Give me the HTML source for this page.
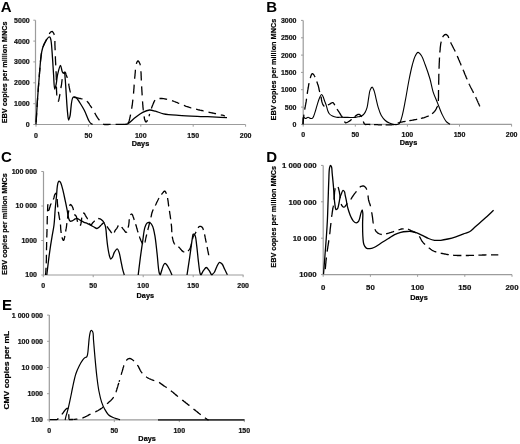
<!DOCTYPE html>
<html><head><meta charset="utf-8"><style>
html,body{margin:0;padding:0;background:#fff;width:520px;height:444px;overflow:hidden}
svg{display:block;will-change:transform;filter:blur(0.3px)}
.t{font-family:"Liberation Sans",sans-serif;font-weight:bold;font-size:7px;fill:#111;stroke:#111;stroke-width:0.22px}
.at{font-family:"Liberation Sans",sans-serif;font-weight:bold;font-size:7.3px;fill:#000;stroke:#000;stroke-width:0.2px}
.L{font-family:"Liberation Sans",sans-serif;font-weight:bold;font-size:15px;fill:#000}
</style></head><body>
<svg width="520" height="444" viewBox="0 0 520 444">
<rect width="520" height="444" fill="#fff"/>
<path d="M35.5 20.2 V124.5 H245.5" fill="none" stroke="#9c9c9c" stroke-width="1.2"/>
<path d="M33.3 124.5 H35.5" stroke="#9c9c9c" stroke-width="1"/>
<path d="M33.3 103.7 H35.5" stroke="#9c9c9c" stroke-width="1"/>
<path d="M33.3 82.8 H35.5" stroke="#9c9c9c" stroke-width="1"/>
<path d="M33.3 61.9 H35.5" stroke="#9c9c9c" stroke-width="1"/>
<path d="M33.3 41.1 H35.5" stroke="#9c9c9c" stroke-width="1"/>
<path d="M33.3 20.2 H35.5" stroke="#9c9c9c" stroke-width="1"/>
<path d="M36.0 124.5 V126.7" stroke="#9c9c9c" stroke-width="1"/>
<path d="M88.4 124.5 V126.7" stroke="#9c9c9c" stroke-width="1"/>
<path d="M140.8 124.5 V126.7" stroke="#9c9c9c" stroke-width="1"/>
<path d="M193.2 124.5 V126.7" stroke="#9c9c9c" stroke-width="1"/>
<path d="M245.6 124.5 V126.7" stroke="#9c9c9c" stroke-width="1"/>
<text x="29.7" y="126.95" text-anchor="end" class="t">0</text>
<text x="29.7" y="106.10" text-anchor="end" class="t">1000</text>
<text x="29.7" y="85.25" text-anchor="end" class="t">2000</text>
<text x="29.7" y="64.40" text-anchor="end" class="t">3000</text>
<text x="29.7" y="43.55" text-anchor="end" class="t">4000</text>
<text x="29.7" y="22.70" text-anchor="end" class="t">5000</text>
<text x="36.0" y="137.8" text-anchor="middle" class="t">0</text>
<text x="88.4" y="137.8" text-anchor="middle" class="t">50</text>
<text x="140.8" y="137.8" text-anchor="middle" class="t">100</text>
<text x="193.2" y="137.8" text-anchor="middle" class="t">150</text>
<text x="245.6" y="137.8" text-anchor="middle" class="t">200</text>
<text x="140.5" y="146.2" text-anchor="middle" class="at">Days</text>
<text transform="translate(7.1 72.4) rotate(-90)" text-anchor="middle" class="at">EBV copies per million MNCs</text>
<text x="0.8" y="11.6" class="L">A</text>
<path d="M36.00 124.40 C36.47 116.60 36.84 109.22 37.40 101.00 C38.02 91.85 38.89 80.38 39.60 72.00 C40.15 65.58 40.57 59.32 41.20 55.00 C41.59 52.31 41.96 50.39 42.50 48.50 C42.93 46.99 43.40 45.83 44.00 44.50 C44.63 43.10 45.36 41.58 46.20 40.30 C47.00 39.09 48.12 37.29 48.90 37.00 C49.30 36.85 49.70 36.93 50.00 37.20 C50.53 37.67 50.70 38.94 51.00 40.50 C51.67 44.01 52.06 52.21 52.50 58.00 C52.93 63.71 53.21 69.61 53.60 75.00 C53.95 79.89 54.05 88.93 54.70 89.00 C55.10 89.04 55.77 85.93 56.20 84.00 C56.76 81.46 56.81 78.01 57.50 75.00 C58.22 71.85 59.66 65.49 60.50 65.50 C61.17 65.51 61.58 70.14 62.20 71.50 C62.55 72.27 62.86 73.01 63.30 73.20 C63.63 73.34 64.11 72.79 64.40 73.00 C65.08 73.49 64.95 76.50 65.20 79.00 C65.61 83.13 65.92 90.00 66.30 95.50 C66.68 101.00 67.03 107.49 67.50 112.00 C67.83 115.15 68.07 119.95 68.60 120.00 C68.98 120.04 69.53 117.85 70.00 116.00 C71.00 112.07 70.99 98.72 73.10 97.20 C73.96 96.58 75.23 97.10 76.20 97.70 C77.60 98.57 78.74 101.06 80.00 103.00 C81.44 105.21 82.89 107.56 84.30 110.30 C86.00 113.59 87.95 119.29 89.30 121.50 C89.94 122.54 90.38 123.11 91.00 123.60 C91.50 124.00 92.07 124.13 92.60 124.40 M123.00 124.40 C124.57 124.20 126.09 124.50 127.70 123.80 C129.92 122.84 132.17 119.97 134.60 118.10 C137.16 116.13 140.00 113.67 142.70 112.30 C145.00 111.13 147.38 110.13 149.60 110.00 C151.60 109.88 153.32 110.65 155.40 111.20 C157.89 111.86 160.33 113.13 163.50 113.80 C167.76 114.70 172.89 114.96 178.80 115.40 C186.91 116.01 199.04 116.28 207.70 116.70 C214.78 117.04 220.57 117.37 227.00 117.70" fill="none" stroke="#000" stroke-width="1.30" stroke-linejoin="round"/>
<path d="M36.1 122.1 36.2 121.2 36.2 120.3 36.3 119.5 36.3 118.6 36.4 117.7 36.4 116.8 36.5 116.0 36.5 115.1 36.6 114.2 36.6 113.3 36.7 113.0M37.0 107.0 37.1 106.2 37.1 105.4 37.2 104.6 37.2 103.8 37.3 103.0 37.3 102.1 37.4 101.3 37.4 100.5 37.5 99.7 37.5 98.8 37.6 98.0 37.6 97.9M38.0 91.9 38.1 91.0 38.2 90.2 38.2 89.3 38.3 88.4 38.4 87.5 38.4 86.7 38.5 85.8 38.6 84.9 38.6 84.0 38.7 83.2 38.7 82.9M39.2 76.9 39.3 76.1 39.3 75.2 39.4 74.3 39.5 73.5 39.5 72.7 39.6 71.8 39.7 71.0 39.8 70.1 39.8 69.3 39.9 68.5 39.9 67.8M40.4 61.8 40.5 61.0 40.6 60.2 40.7 59.3 40.8 58.5 40.9 57.6 41.0 56.9 41.1 56.0 41.2 55.2 41.3 54.4 41.4 53.6 41.5 52.8M43.0 47.1 43.3 46.3 43.6 45.5 43.9 44.7 44.3 43.9 44.6 43.2 45.0 42.5 45.4 41.7 45.7 41.0 46.1 40.3 46.5 39.5 46.7 39.1M49.3 34.0 49.7 33.3 50.1 32.6 50.7 32.0 51.4 31.6 52.3 31.5 52.9 32.1 53.4 32.8 53.8 33.5 54.1 34.4 54.4 35.1M54.9 41.0 54.9 41.8 54.9 42.7 54.9 43.5 54.9 44.4 54.9 45.2 55.0 46.0 55.0 46.9 55.0 47.7 55.1 48.6 55.1 49.5 55.1 50.2M55.4 56.2 55.4 57.0 55.4 57.8 55.4 58.6 55.5 59.4 55.5 60.3 55.5 61.1 55.6 62.0 55.6 62.9 55.7 63.7 55.7 64.6 55.8 65.3M56.0 71.2 56.1 72.1 56.1 72.9 56.2 73.8 56.2 74.6 56.2 75.5 56.2 76.3 56.3 77.1 56.3 78.0 56.3 78.9 56.3 79.7 56.3 80.3M56.4 86.4 56.4 87.2 56.5 88.0 56.5 88.9 56.5 89.7 56.5 90.6 56.6 91.4 56.6 92.3 56.7 93.1 56.7 94.0 56.8 94.9 56.9 95.5M57.8 101.4 58.5 101.1 58.8 100.2 58.9 99.4 59.1 98.6 59.3 97.8 59.4 96.8 59.6 96.0 59.8 95.2 59.9 94.3 60.0 94.0M60.9 88.2 61.0 87.4 61.2 86.5 61.3 85.6 61.5 84.8 61.6 83.9 61.7 83.0 61.8 82.1 61.9 81.3 62.0 80.5 62.1 79.7 62.2 79.1M63.3 73.4 63.7 72.7 64.3 72.2 65.1 72.1 65.5 72.8 65.8 73.6 66.0 74.5 66.3 75.2 66.6 76.0 66.9 76.8 67.2 77.6 67.3 77.9M68.7 83.7 68.8 84.5 68.9 85.4 69.1 86.2 69.2 87.1 69.4 88.0 69.6 88.8 69.7 89.6 69.9 90.4 70.1 91.2 70.4 92.1 70.5 92.5M73.5 97.1 74.2 97.4 75.1 97.5 75.9 97.5 76.7 97.7 77.6 97.9 78.4 98.1 79.2 98.3 80.1 98.5 80.9 98.7 81.7 98.8 82.5 98.8M86.9 101.1 87.4 101.7 88.0 102.3 88.5 103.0 89.0 103.7 89.5 104.5 89.9 105.1 90.4 105.8 90.8 106.5 91.3 107.1 91.7 107.8 91.9 108.0M94.7 112.9 95.1 113.7 95.6 114.5 96.0 115.2 96.4 116.0 96.9 116.7 97.3 117.4 97.8 118.1 98.2 118.7 98.8 119.5 99.3 120.2 99.3 120.3M103.1 124.0 103.8 124.3 104.7 124.5 105.5 124.5 106.3 124.5 107.2 124.5 108.1 124.5 109.0 124.4 109.8 124.4 110.6 124.4M115.6 124.4 116.5 124.4 117.5 124.4 118.4 124.4 119.3 124.4 120.2 124.4 121.1 124.4 121.9 124.3 122.8 124.3 123.2 124.3M128.0 123.1 128.4 122.4 128.8 121.7 129.1 120.9 129.3 120.1 129.5 119.3 129.7 118.5 129.9 117.6 130.1 116.8 130.3 115.9 130.5 115.0 130.6 114.6M131.7 108.8 131.8 107.9 131.9 107.1 132.0 106.3 132.2 105.5 132.3 104.6 132.4 103.7 132.5 102.9 132.6 102.0 132.7 101.1 132.8 100.3 132.9 99.7M133.5 93.7 133.6 92.9 133.6 92.1 133.7 91.3 133.8 90.5 133.8 89.6 133.9 88.8 134.0 88.0 134.0 87.1 134.1 86.3 134.1 85.5 134.2 84.7M134.7 78.7 134.7 77.9 134.8 77.0 134.9 76.2 135.0 75.4 135.0 74.6 135.1 73.7 135.2 72.9 135.3 72.0 135.3 71.2 135.4 70.3 135.4 69.7M136.4 63.8 136.6 63.0 136.9 62.2 137.3 61.5 137.8 60.9 138.6 61.2 139.0 61.9 139.4 62.7 139.8 63.5 140.1 64.2 140.3 65.0 140.4 65.3M140.9 71.2 141.0 72.1 141.0 72.9 141.1 73.7 141.1 74.6 141.1 75.4 141.2 76.2 141.2 77.1 141.2 77.9 141.3 78.8 141.3 79.6 141.3 80.4M141.6 86.3 141.7 87.1 141.7 87.9 141.8 88.8 141.8 89.6 141.9 90.5 141.9 91.4 142.0 92.2 142.0 93.0 142.1 93.8 142.1 94.6 142.2 95.4M142.5 101.4 142.6 102.3 142.7 103.2 142.7 104.0 142.8 104.9 142.9 105.7 142.9 106.5 143.0 107.4 143.1 108.3 143.2 109.1 143.3 109.9 143.4 110.4M144.1 116.4 144.2 117.2 144.3 118.0 144.5 118.8 144.7 119.6 145.0 120.4 145.3 121.2 145.7 121.8 146.5 121.9 147.0 121.2 147.3 120.4 147.5 120.1M148.9 116.3 149.2 115.5 149.4 114.8 149.7 114.0M151.4 108.4 151.7 107.6 152.0 106.8 152.3 106.0 152.6 105.2 152.9 104.5 153.2 103.7 153.6 102.9 153.9 102.1 154.3 101.3 154.7 100.6 155.0 100.2M159.5 98.5 160.4 98.5 161.3 98.5 162.1 98.5 162.9 98.6 163.8 98.7 164.6 98.8 165.5 99.0 166.3 99.1 167.1 99.3M172.0 100.6 172.7 100.9 173.5 101.2 174.3 101.5 175.2 101.8 175.9 102.1 176.7 102.4 177.5 102.7 178.2 103.1 179.0 103.4 179.2 103.5M183.9 105.4 184.7 105.7 185.5 106.1 186.3 106.4 187.1 106.6 188.0 106.9 188.8 107.2 189.5 107.4 190.3 107.7 191.1 107.9 191.3 107.9M196.1 109.2 196.9 109.4 197.7 109.6 198.5 109.8 199.3 110.0 200.1 110.2 200.9 110.3 201.7 110.5 202.5 110.7 203.3 110.9 203.6 110.9M208.5 112.1 209.3 112.3 210.1 112.5 210.9 112.6 211.7 112.8 212.5 113.0 213.3 113.2 214.1 113.4 214.8 113.5 215.6 113.7 216.0 113.8M220.8 114.9 221.7 115.1 222.5 115.2 223.3 115.4 224.0 115.6 224.8 115.8 225.0 115.8" fill="none" stroke="#000" stroke-width="1.30" stroke-linejoin="round"/>
<path d="M303.2 20.4 V124.4 H511.8" fill="none" stroke="#9c9c9c" stroke-width="1.2"/>
<path d="M301.0 124.4 H303.2" stroke="#9c9c9c" stroke-width="1"/>
<path d="M301.0 107.1 H303.2" stroke="#9c9c9c" stroke-width="1"/>
<path d="M301.0 89.7 H303.2" stroke="#9c9c9c" stroke-width="1"/>
<path d="M301.0 72.4 H303.2" stroke="#9c9c9c" stroke-width="1"/>
<path d="M301.0 55.1 H303.2" stroke="#9c9c9c" stroke-width="1"/>
<path d="M301.0 37.8 H303.2" stroke="#9c9c9c" stroke-width="1"/>
<path d="M301.0 20.4 H303.2" stroke="#9c9c9c" stroke-width="1"/>
<path d="M303.2 124.4 V126.6" stroke="#9c9c9c" stroke-width="1"/>
<path d="M355.3 124.4 V126.6" stroke="#9c9c9c" stroke-width="1"/>
<path d="M407.4 124.4 V126.6" stroke="#9c9c9c" stroke-width="1"/>
<path d="M459.5 124.4 V126.6" stroke="#9c9c9c" stroke-width="1"/>
<path d="M511.6 124.4 V126.6" stroke="#9c9c9c" stroke-width="1"/>
<text x="296.5" y="126.85" text-anchor="end" class="t">0</text>
<text x="296.5" y="109.52" text-anchor="end" class="t">500</text>
<text x="296.5" y="92.19" text-anchor="end" class="t">1000</text>
<text x="296.5" y="74.86" text-anchor="end" class="t">1500</text>
<text x="296.5" y="57.53" text-anchor="end" class="t">2000</text>
<text x="296.5" y="40.20" text-anchor="end" class="t">2500</text>
<text x="296.5" y="22.87" text-anchor="end" class="t">3000</text>
<text x="303.2" y="136.6" text-anchor="middle" class="t">0</text>
<text x="355.3" y="136.6" text-anchor="middle" class="t">50</text>
<text x="407.4" y="136.6" text-anchor="middle" class="t">100</text>
<text x="459.5" y="136.6" text-anchor="middle" class="t">150</text>
<text x="511.6" y="136.6" text-anchor="middle" class="t">200</text>
<text x="408.5" y="145.0" text-anchor="middle" class="at">Days</text>
<text transform="translate(276.0 69.6) rotate(-90)" text-anchor="middle" class="at">EBV copies per million MNCs</text>
<text x="266.2" y="11.9" class="L">B</text>
<path d="M303.00 124.30 C303.13 121.87 302.63 117.36 303.40 117.00 C303.85 116.79 304.66 118.42 305.40 118.50 C306.21 118.59 307.20 117.30 308.10 117.30 C309.00 117.30 309.96 118.47 310.80 118.50 C311.51 118.53 312.22 118.35 312.80 117.80 C313.74 116.91 314.25 114.47 314.90 112.60 C315.63 110.50 316.17 108.14 316.90 105.80 C317.69 103.28 318.56 100.05 319.50 98.00 C320.16 96.56 320.95 94.52 321.60 94.50 C322.10 94.48 322.57 95.66 323.00 96.50 C323.60 97.67 324.04 99.48 324.60 101.00 C325.18 102.58 325.88 104.20 326.40 105.80 C326.91 107.36 327.14 109.07 327.70 110.50 C328.20 111.78 328.68 113.07 329.50 114.00 C330.27 114.88 331.30 115.46 332.40 116.00 C333.61 116.59 335.17 117.09 336.50 117.30 C337.70 117.49 338.61 117.29 340.00 117.30 C342.07 117.31 345.14 117.38 347.70 117.40 C350.24 117.42 353.42 117.61 355.30 117.40 C356.44 117.28 357.16 116.96 358.00 116.80 C358.71 116.67 359.29 116.73 360.00 116.50 C360.92 116.21 362.15 115.68 363.00 115.00 C363.85 114.32 364.48 113.46 365.10 112.40 C365.89 111.05 366.56 109.35 367.10 107.40 C367.81 104.83 368.08 101.17 368.60 98.20 C369.09 95.41 369.27 92.08 370.10 90.10 C370.65 88.78 371.55 87.05 372.20 87.10 C372.92 87.15 373.61 89.49 374.20 91.10 C375.01 93.31 375.53 96.58 376.20 99.30 C376.86 102.01 377.36 104.73 378.20 107.40 C379.05 110.13 379.99 113.21 381.30 115.50 C382.43 117.47 383.84 119.19 385.30 120.50 C386.57 121.64 388.04 122.45 389.40 123.10 C390.60 123.67 391.68 124.09 393.00 124.30 C394.51 124.55 396.78 124.74 398.00 124.30 C398.86 123.99 399.34 123.53 399.90 122.70 C400.84 121.32 401.38 118.78 402.10 116.10 C403.19 112.06 404.23 106.22 405.30 100.70 C406.53 94.32 407.74 86.33 409.00 80.00 C410.08 74.59 411.15 69.27 412.30 65.00 C413.17 61.74 413.86 58.75 415.00 56.50 C415.86 54.80 416.90 52.49 418.00 52.40 C419.07 52.31 420.45 54.26 421.50 55.80 C422.97 57.96 423.95 61.36 425.20 64.70 C426.77 68.88 428.66 74.34 430.00 79.00 C431.26 83.36 431.81 87.73 433.10 91.80 C434.33 95.68 436.03 99.21 437.50 102.90 C438.96 106.58 440.31 110.61 441.90 113.90 C443.27 116.75 444.69 119.80 446.30 121.60 C447.46 122.89 448.77 123.40 450.00 124.30" fill="none" stroke="#000" stroke-width="1.10" stroke-linejoin="round"/>
<path d="M303.0 124.3 303.1 123.5 303.1 122.7 303.2 121.9 303.3 121.0 303.4 120.1 303.4 119.2 303.5 118.4 303.6 117.6 303.7 116.8 303.8 116.0 303.8 115.2 303.9 114.6M304.7 109.6 304.8 108.8 305.0 108.0 305.1 107.2 305.3 106.4 305.4 105.6 305.6 104.7 305.7 103.9 305.9 103.1 306.0 102.3 306.2 101.4 306.3 100.6 306.4 99.8 306.5 99.0 306.6 98.8M307.2 93.8 307.4 93.0 307.5 92.2 307.6 91.3 307.7 90.5 307.9 89.7 308.0 88.9 308.2 88.0 308.3 87.1 308.5 86.3 308.6 85.4 308.8 84.5 308.9 83.7 309.1 83.1M310.3 78.2 310.5 77.4 310.7 76.6 311.0 75.8 311.3 75.0 311.6 74.2 312.2 73.6 313.0 73.9 313.6 74.6 314.1 75.2 314.5 76.0 314.9 76.7 315.1 77.1M316.8 81.6 317.1 82.4 317.4 83.2 317.6 83.9 317.9 84.7 318.2 85.5 318.4 86.3 318.6 87.1 318.8 87.9 319.0 88.8 319.1 89.6 319.3 90.4 319.5 91.2 319.7 92.0M321.0 96.7 321.1 97.5 321.3 98.4 321.4 99.1 321.5 99.9 321.7 100.8 321.9 101.7 322.1 102.4 322.4 103.3 322.7 104.1 323.1 104.9 323.6 105.7 324.2 106.2 324.4 106.3M327.9 104.9 328.7 104.7 329.4 104.3 330.1 103.9 330.8 103.4 331.5 103.0 332.3 102.6 333.1 102.7 333.7 103.4 334.2 104.1 334.6 104.9 334.7 105.2M337.0 109.1 337.5 109.8 337.9 110.4 338.4 111.1 338.9 111.8 339.3 112.5 339.7 113.2 340.2 113.9 340.6 114.6 341.0 115.3 341.5 116.0 342.0 116.7 342.4 117.4M344.5 121.5 344.9 122.2 345.5 122.8 346.4 122.7 347.1 122.4 347.9 122.0 348.7 121.5 349.4 121.1 350.1 120.6 350.8 120.1 351.4 119.6 351.6 119.4M354.7 116.7 355.3 116.2 356.0 115.6 356.7 115.1 357.4 114.7 358.2 114.4 359.0 114.3 359.8 114.7 360.4 115.3 360.9 115.9 361.4 116.6 361.6 117.0M363.3 121.5 363.6 122.2 363.9 123.1 364.3 123.8 365.0 124.3 365.8 124.5 366.6 124.4 367.4 124.4 368.2 124.4 369.1 124.4 369.9 124.5 370.3 124.5M374.0 124.6 374.9 124.6 375.8 124.7 376.7 124.7 377.5 124.7 378.3 124.8 379.1 124.8 380.0 124.8 380.8 124.8 381.7 124.8 382.0 124.8M385.6 124.9 386.4 124.9 387.3 124.9 388.2 124.9 389.1 124.9 389.9 124.8 390.8 124.8 391.6 124.8 392.4 124.7 393.3 124.7 394.1 124.6 394.3 124.6M397.8 123.3 398.5 122.8 399.4 122.5 400.2 122.3 400.9 122.1 401.8 122.0 402.7 121.8 403.5 121.7 404.3 121.6 405.1 121.4 405.6 121.3M409.3 120.7 410.1 120.6 410.9 120.4 411.7 120.3 412.5 120.2 413.3 120.0 414.1 119.9 414.9 119.7 415.7 119.6 416.5 119.4 417.2 119.2M420.9 118.4 421.8 118.2 422.6 118.0 423.4 117.8 424.2 117.6 425.0 117.3 425.8 117.0 426.6 116.7 427.3 116.4 428.1 116.1 428.7 115.8M432.1 113.7 432.7 113.2 433.3 112.7 434.0 112.1 434.6 111.4 435.0 110.8 435.5 110.1 435.9 109.4 436.3 108.7 436.6 107.9 437.0 107.1 437.3 106.4 437.4 105.8M438.3 101.0 438.4 100.1 438.4 99.2 438.4 98.4 438.5 97.5 438.5 96.6 438.5 95.8 438.5 95.0 438.5 94.2 438.5 93.4 438.5 92.5 438.5 91.7 438.5 90.9 438.6 90.0 438.6 89.9M438.7 84.8 438.7 84.0 438.7 83.2 438.7 82.4 438.7 81.6 438.7 80.8 438.8 79.9 438.8 79.1 438.8 78.3 438.8 77.5 438.8 76.6 438.8 75.8 438.8 75.0 438.9 74.2 438.9 73.7M439.0 68.7 439.1 67.8 439.1 67.0 439.1 66.1 439.2 65.2 439.2 64.4 439.2 63.5 439.3 62.6 439.3 61.8 439.4 60.9 439.4 60.0 439.4 59.2 439.5 58.3 439.5 57.6M439.9 52.6 439.9 51.7 440.0 50.9 440.1 50.1 440.2 49.2 440.2 48.3 440.3 47.4 440.4 46.6 440.5 45.8 440.6 45.0 440.7 44.1 440.8 43.3 441.0 42.5 441.2 41.6M442.6 37.1 443.1 36.4 443.6 35.7 444.2 35.1 444.9 34.6 445.8 34.4 446.6 34.7 447.2 35.2 447.8 35.8 448.2 36.5 448.5 37.3 448.8 38.1M450.6 42.4 451.0 43.2 451.4 43.9 451.8 44.7 452.2 45.4 452.5 46.2 452.9 46.9 453.3 47.7 453.7 48.5 454.1 49.2 454.5 50.0 454.9 50.8 455.2 51.5M457.2 55.9 457.5 56.6 457.8 57.4 458.2 58.1 458.5 58.9 458.8 59.7 459.2 60.4 459.5 61.2 459.8 62.0 460.1 62.8 460.5 63.5 460.8 64.3 461.1 65.1 461.3 65.4M463.1 69.8 463.4 70.6 463.8 71.3 464.1 72.1 464.4 72.9 464.7 73.7 465.0 74.5 465.4 75.2 465.7 76.0 466.0 76.8 466.3 77.6 466.7 78.4 467.0 79.1 467.1 79.4M469.0 83.7 469.3 84.5 469.7 85.3 470.1 86.0 470.4 86.7 470.8 87.5 471.2 88.2 471.6 89.0 472.0 89.8 472.4 90.6 472.8 91.3 473.2 92.1 473.6 92.9M475.6 97.1 476.0 97.8 476.3 98.5 476.7 99.3 477.0 100.0 477.3 100.8 477.7 101.5 478.0 102.3 478.3 103.0 478.7 103.8 479.0 104.5 479.3 105.3 479.7 106.0 479.9 106.4" fill="none" stroke="#000" stroke-width="1.30" stroke-linejoin="round"/>
<path d="M43.5 171.5 V275.0 H243.5" fill="none" stroke="#9c9c9c" stroke-width="1.2"/>
<path d="M41.3 275.0 H43.5" stroke="#9c9c9c" stroke-width="1"/>
<path d="M41.3 240.5 H43.5" stroke="#9c9c9c" stroke-width="1"/>
<path d="M41.3 206.0 H43.5" stroke="#9c9c9c" stroke-width="1"/>
<path d="M41.3 171.5 H43.5" stroke="#9c9c9c" stroke-width="1"/>
<path d="M43.3 275.0 V277.2" stroke="#9c9c9c" stroke-width="1"/>
<path d="M93.2 275.0 V277.2" stroke="#9c9c9c" stroke-width="1"/>
<path d="M143.2 275.0 V277.2" stroke="#9c9c9c" stroke-width="1"/>
<path d="M193.2 275.0 V277.2" stroke="#9c9c9c" stroke-width="1"/>
<path d="M243.1 275.0 V277.2" stroke="#9c9c9c" stroke-width="1"/>
<text x="37.0" y="277.45" text-anchor="end" class="t">100</text>
<text x="37.0" y="242.95" text-anchor="end" class="t">1000</text>
<text x="37.0" y="208.45" text-anchor="end" class="t">10 000</text>
<text x="37.0" y="173.95" text-anchor="end" class="t">100 000</text>
<text x="43.3" y="287.8" text-anchor="middle" class="t">0</text>
<text x="93.2" y="287.8" text-anchor="middle" class="t">50</text>
<text x="143.2" y="287.8" text-anchor="middle" class="t">100</text>
<text x="193.2" y="287.8" text-anchor="middle" class="t">150</text>
<text x="243.1" y="287.8" text-anchor="middle" class="t">200</text>
<text x="145.3" y="298.2" text-anchor="middle" class="at">Days</text>
<text transform="translate(6.8 224.0) rotate(-90)" text-anchor="middle" class="at">EBV copies per million MNCs</text>
<text x="0.9" y="162.0" class="L">C</text>
<path d="M46.80 275.00 C47.37 270.23 47.92 265.25 48.50 260.70 C49.03 256.55 49.52 252.76 50.10 248.80 C50.68 244.83 51.35 240.87 52.00 236.90 C52.65 232.93 53.47 229.33 54.00 225.00 C54.63 219.85 54.84 213.17 55.30 208.00 C55.68 203.65 56.15 199.77 56.50 196.00 C56.81 192.65 56.93 189.04 57.30 186.50 C57.55 184.78 57.77 183.10 58.20 182.20 C58.43 181.71 58.69 181.26 59.00 181.20 C59.29 181.15 59.70 181.50 60.00 181.80 C60.39 182.19 60.67 182.72 61.00 183.50 C61.63 184.97 62.28 187.74 62.90 190.20 C63.65 193.17 64.39 196.77 65.10 200.10 C65.82 203.47 66.57 207.09 67.20 210.30 C67.76 213.15 68.01 216.44 68.70 218.40 C69.13 219.62 69.51 220.86 70.20 221.20 C70.75 221.47 71.49 221.17 72.20 220.90 C73.16 220.54 74.43 219.32 75.30 218.90 C75.87 218.63 76.21 218.34 76.80 218.40 C77.76 218.49 79.20 219.75 80.40 220.40 C81.60 221.05 82.79 221.76 84.00 222.30 C85.16 222.82 86.37 223.11 87.50 223.60 C88.60 224.08 89.63 224.64 90.70 225.20 C91.80 225.77 92.93 226.43 94.00 227.00 C94.99 227.53 95.97 228.55 96.90 228.50 C97.80 228.45 98.71 227.45 99.50 226.80 C100.28 226.15 100.89 225.27 101.60 224.60 C102.26 223.98 103.02 222.82 103.60 222.90 C104.19 222.99 104.72 224.25 105.10 225.20 C105.61 226.47 105.76 228.25 106.00 230.00 C106.29 232.09 106.35 234.41 106.60 236.90 C106.90 239.84 107.22 243.32 107.70 246.50 C108.18 249.68 108.84 253.74 109.50 256.00 C109.88 257.30 110.15 258.89 110.70 259.00 C111.18 259.10 111.97 258.02 112.50 257.20 C113.25 256.04 113.47 253.82 114.30 252.40 C115.09 251.04 116.48 248.71 117.30 248.80 C118.06 248.89 118.58 250.91 119.10 252.40 C119.86 254.58 120.31 258.01 120.90 260.80 C121.48 263.57 121.98 266.58 122.60 269.10 C123.13 271.25 123.73 273.03 124.30 275.00 M138.20 275.00 C138.93 269.07 139.64 262.92 140.40 257.20 C141.11 251.88 141.84 246.84 142.60 241.80 C143.34 236.92 143.82 230.76 144.90 227.40 C145.53 225.45 146.03 223.66 147.10 223.00 C147.98 222.46 149.51 222.52 150.40 223.00 C151.38 223.52 151.97 224.86 152.60 226.30 C153.56 228.49 154.15 231.71 154.80 235.20 C155.70 240.05 156.29 246.75 157.00 252.80 C157.76 259.23 158.25 269.37 159.20 272.70 C159.54 273.89 159.93 274.23 160.30 275.00 M160.30 275.00 C160.87 273.17 161.42 271.24 162.00 269.50 C162.53 267.92 162.97 266.08 163.60 265.00 C164.02 264.28 164.50 263.46 165.00 263.40 C165.47 263.35 165.98 263.93 166.50 264.50 C167.43 265.52 168.59 267.77 169.50 269.50 C170.43 271.26 171.17 273.17 172.00 275.00 M187.00 275.00 C187.87 269.30 188.74 263.78 189.60 257.90 C190.51 251.66 191.59 242.75 192.30 238.60 C192.64 236.61 192.56 234.50 193.20 234.20 C193.62 234.00 194.43 234.45 194.90 235.10 C196.01 236.64 196.16 241.73 196.70 245.60 C197.36 250.32 197.77 256.47 198.40 261.40 C198.95 265.76 199.48 271.72 200.20 273.70 C200.45 274.39 200.73 274.57 201.00 275.00 M201.00 275.00 C201.90 273.40 202.72 271.52 203.70 270.20 C204.51 269.11 205.43 267.50 206.30 267.50 C207.17 267.50 208.09 269.11 208.90 270.20 C209.88 271.52 210.70 273.40 211.60 275.00 M211.60 275.00 C212.47 274.17 213.43 273.60 214.20 272.50 C215.23 271.04 215.86 268.47 216.80 266.70 C217.64 265.10 218.48 262.53 219.50 262.30 C220.29 262.12 221.33 263.13 222.10 264.00 C223.16 265.20 223.83 267.52 224.70 269.30 C225.59 271.12 226.50 272.97 227.40 274.80" fill="none" stroke="#000" stroke-width="1.30" stroke-linejoin="round"/>
<path d="M45.6 275.0 45.6 274.1 45.7 273.2 45.8 272.4 45.8 271.5 45.9 270.6 45.9 269.7 46.0 268.9 46.0 268.0 46.0 267.8M46.2 263.3 46.3 262.5 46.3 261.7 46.3 260.8 46.4 259.9 46.4 259.1 46.4 258.3 46.4 257.4 46.4 256.6 46.4 255.8 46.5 254.9 46.5 254.8M46.5 250.3 46.5 249.5 46.5 248.6 46.5 247.8 46.6 247.0 46.6 246.2 46.6 245.4 46.6 244.5 46.6 243.7 46.6 242.9 46.7 242.1 46.7 241.9M46.8 237.4 46.8 236.6 46.8 235.8 46.9 235.0 46.9 234.2 46.9 233.4 46.9 232.6 47.0 231.8 47.0 231.0 47.0 230.2 47.0 229.4 47.0 228.9M47.1 224.4 47.2 223.6 47.2 222.7 47.2 221.9 47.2 221.1 47.2 220.2 47.3 219.4 47.3 218.6 47.3 217.8 47.3 216.9 47.4 216.0 47.4 215.9M47.5 211.4 47.6 210.5 47.6 209.6 47.6 208.8 47.7 208.0 47.7 207.1 47.7 206.2 47.8 205.4 47.9 204.6 48.2 204.9M48.6 209.5 48.7 210.3 49.2 209.5 49.4 208.7 49.6 207.9 49.9 207.1 50.1 206.4 50.3 205.5 50.6 204.7 50.9 204.0 51.1 203.4M53.3 199.5 53.6 198.7 53.9 197.9 54.1 197.0 54.3 196.2 54.5 195.4 54.8 194.6 55.3 193.8 55.9 193.3 56.4 194.0 56.5 194.4M57.2 198.9 57.2 199.7 57.3 200.6 57.3 201.5 57.4 202.3 57.4 203.1 57.5 204.0 57.6 204.8 57.7 205.6 57.7 206.5 57.8 207.3M58.4 211.8 58.5 212.7 58.7 213.5 58.8 214.3 58.9 215.1 59.1 215.9 59.2 216.8 59.3 217.6 59.5 218.4 59.6 219.2 59.8 220.0 59.8 220.1M60.5 224.5 60.5 225.3 60.6 226.2 60.6 227.1 60.7 228.0 60.7 228.9 60.8 229.8 60.9 230.6 61.0 231.5 61.1 232.3 61.2 233.0M62.0 237.3 62.2 238.1 62.5 238.9 62.9 239.7 63.3 240.4 64.0 239.9 64.2 239.1 64.4 238.2 64.6 237.4 64.8 236.5 64.9 236.0M65.6 231.5 65.8 230.6 65.9 229.7 66.1 228.9 66.2 228.1 66.4 227.3 66.5 226.4 66.6 225.5 66.7 224.7 66.8 223.9 66.9 223.2M67.5 218.7 67.6 217.9 67.7 217.0 67.8 216.2 68.0 215.3 68.1 214.5 68.2 213.6 68.4 212.8 68.5 212.0 68.7 211.1 68.8 210.4M69.7 206.0 69.9 205.2 70.4 204.5 71.1 204.8 71.7 205.5 72.1 206.2 72.5 207.0 72.8 207.8 73.1 208.6 73.3 209.4 73.4 210.1M74.6 214.3 75.0 215.1 75.7 215.6 76.2 216.2 76.5 217.0 76.7 217.8 76.9 218.6 77.0 219.5 77.2 220.3 77.4 221.2 77.6 221.9M79.9 225.5 80.6 225.0 80.8 224.2 81.0 223.4 81.2 222.5 81.3 221.7 81.4 220.8 81.5 219.9 81.6 219.0 81.7 218.1 81.8 217.7M83.2 213.5 83.8 213.0 84.5 213.6 84.9 214.4 85.3 215.2 85.7 215.9 86.1 216.7 86.6 217.4 87.1 218.1 87.5 218.8 87.7 219.1M89.5 223.3 89.9 224.1 90.4 224.8 91.2 224.8 91.8 224.2 92.2 223.5 92.7 222.8 93.3 222.2 93.9 221.6 94.5 221.0 94.7 220.8M98.2 218.5 99.1 218.6 99.9 218.8 100.7 219.2 101.4 219.6 102.0 220.2 102.6 220.8 103.2 221.4 103.7 222.1 104.3 222.7 104.4 222.9M107.0 226.4 107.5 227.1 108.0 227.9 108.5 228.6 109.0 229.3 109.5 230.0 110.0 230.7 110.5 231.4 110.9 232.0 111.4 232.7 111.8 233.2M114.3 232.6 114.6 231.8 114.9 231.0 115.2 230.3 115.7 229.6 116.3 229.0 116.9 228.3 117.3 227.5 117.7 226.7 118.1 225.9 118.4 225.5M121.6 227.1 122.2 227.7 122.7 228.4 123.2 229.1 123.7 229.7 124.3 230.4 124.8 231.1 125.2 231.8 125.8 232.4 126.6 232.2 126.8 231.8M128.1 227.6 128.3 226.8 128.5 226.0 128.7 225.2 128.8 224.3 128.9 223.5 129.0 222.6 129.1 221.8 129.1 220.9 129.2 220.1 129.3 219.2M130.4 214.9 130.9 214.3 131.7 214.0 132.3 214.6 132.7 215.4 133.0 216.2 133.3 216.9 133.5 217.8 133.8 218.6 134.1 219.5 134.3 220.0M135.6 224.2 135.9 225.0 136.1 225.8 136.4 226.6 136.6 227.4 136.8 228.3 137.1 229.1 137.3 229.9 137.5 230.7 137.8 231.5 138.0 232.3M139.4 236.5 139.7 237.4 140.0 238.2 140.3 239.0 140.6 239.8 140.9 240.6 141.3 241.3 141.7 242.1 142.1 242.9 142.5 243.6 142.7 244.1M144.9 242.5 145.1 241.7 145.3 240.8 145.5 239.9 145.6 239.0 145.8 238.2 146.0 237.3 146.2 236.5 146.4 235.7 146.6 234.9 146.8 234.4M147.8 230.0 148.0 229.2 148.2 228.4 148.4 227.6 148.6 226.8 148.8 226.0 149.0 225.2 149.2 224.4 149.4 223.7 149.6 222.9 149.8 222.1 149.9 221.8M150.9 217.4 151.1 216.6 151.3 215.8 151.5 215.0 151.6 214.2 151.8 213.4 152.1 212.6 152.3 211.8 152.6 211.0 152.9 210.2 153.2 209.5 153.2 209.4M155.3 205.5 155.7 204.8 156.0 204.1 156.4 203.3 156.7 202.5 157.1 201.7 157.5 201.0 157.8 200.2 158.2 199.5 158.6 198.7 158.9 198.0M161.4 194.5 162.0 193.8 162.5 193.2 163.1 192.5 163.6 191.8 164.2 191.2 165.0 191.2 165.5 191.9 165.9 192.6 166.2 193.4 166.4 193.8M167.6 198.0 167.7 198.8 167.8 199.6 168.0 200.5 168.1 201.4 168.2 202.2 168.3 203.0 168.4 203.8 168.5 204.6 168.6 205.4 168.7 206.2 168.8 206.4M169.4 210.8 169.6 211.6 169.7 212.4 169.8 213.3 169.9 214.1 170.1 214.9 170.2 215.7 170.3 216.6 170.4 217.4 170.5 218.2 170.7 219.1 170.7 219.2M171.2 223.7 171.3 224.5 171.4 225.4 171.5 226.2 171.6 227.1 171.6 228.0 171.7 228.9 171.7 229.8 171.7 230.6 171.8 231.5 171.8 232.2M172.3 236.6 172.4 237.5 172.6 238.3 172.8 239.2 173.0 240.0 173.2 240.8 173.4 241.6 173.7 242.4 174.1 243.2 174.5 243.9 174.9 244.4M178.4 246.8 179.0 247.3 179.6 247.9 180.2 248.6 180.7 249.3 181.3 249.9 181.8 250.6 182.5 251.1 183.2 251.6 184.0 252.0 184.3 252.1M188.1 251.0 188.6 250.4 189.1 249.8 189.6 249.0 190.1 248.3 190.4 247.5 190.6 246.7 190.9 245.9 191.1 245.1 191.3 244.3 191.5 243.6M192.5 239.2 192.7 238.4 192.9 237.6 193.2 236.8 193.6 236.0 194.0 235.3 194.4 234.6 194.9 233.9 195.4 233.1 195.8 232.4 196.1 231.9M198.1 227.9 198.5 227.2 199.1 226.6 199.9 226.3 200.8 226.4 201.6 226.8 202.2 227.3 202.7 228.0 203.0 228.8 203.3 229.6 203.5 230.0M204.6 234.3 204.7 235.1 204.9 236.0 205.1 236.9 205.2 237.7 205.4 238.6 205.6 239.5 205.7 240.3 205.9 241.1 206.1 241.9 206.2 242.6M207.1 247.0 207.3 247.8 207.4 248.6 207.6 249.4 207.7 250.2 207.9 251.0 208.1 251.8 208.2 252.6 208.4 253.3 208.5 254.1 208.7 254.9 208.7 255.2" fill="none" stroke="#000" stroke-width="1.30" stroke-linejoin="round"/>
<path d="M323.2 165.4 V274.6 H512.0" fill="none" stroke="#9c9c9c" stroke-width="1.2"/>
<path d="M321.0 274.6 H323.2" stroke="#9c9c9c" stroke-width="1"/>
<path d="M321.0 238.2 H323.2" stroke="#9c9c9c" stroke-width="1"/>
<path d="M321.0 201.8 H323.2" stroke="#9c9c9c" stroke-width="1"/>
<path d="M321.0 165.4 H323.2" stroke="#9c9c9c" stroke-width="1"/>
<path d="M323.2 274.6 V276.8" stroke="#9c9c9c" stroke-width="1"/>
<path d="M370.4 274.6 V276.8" stroke="#9c9c9c" stroke-width="1"/>
<path d="M417.6 274.6 V276.8" stroke="#9c9c9c" stroke-width="1"/>
<path d="M464.8 274.6 V276.8" stroke="#9c9c9c" stroke-width="1"/>
<path d="M512.0 274.6 V276.8" stroke="#9c9c9c" stroke-width="1"/>
<text x="316.6" y="277.33" text-anchor="end" class="t" style="font-size:7.80px">1000</text>
<text x="316.6" y="240.93" text-anchor="end" class="t" style="font-size:7.80px">10 000</text>
<text x="316.6" y="204.53" text-anchor="end" class="t" style="font-size:7.80px">100 000</text>
<text x="316.6" y="168.13" text-anchor="end" class="t" style="font-size:7.80px">1 000 000</text>
<text x="323.2" y="290.4" text-anchor="middle" class="t" style="font-size:7.80px">0</text>
<text x="370.4" y="290.4" text-anchor="middle" class="t" style="font-size:7.80px">50</text>
<text x="417.6" y="290.4" text-anchor="middle" class="t" style="font-size:7.80px">100</text>
<text x="464.8" y="290.4" text-anchor="middle" class="t" style="font-size:7.80px">150</text>
<text x="512.0" y="290.4" text-anchor="middle" class="t" style="font-size:7.80px">200</text>
<text x="419.0" y="299.5" text-anchor="middle" class="at">Days</text>
<text transform="translate(276.0 216.8) rotate(-90)" text-anchor="middle" class="at">EBV copies per million MNCs</text>
<text x="266.2" y="161.8" class="L">D</text>
<path d="M323.50 274.30 C324.00 267.87 324.50 261.49 325.00 255.00 C325.50 248.39 326.08 241.19 326.50 235.00 C326.86 229.64 327.14 225.33 327.40 220.00 C327.69 213.93 327.87 207.06 328.10 200.50 C328.34 193.83 328.53 186.19 328.80 180.30 C329.01 175.72 328.96 170.68 329.50 168.10 C329.76 166.85 330.11 165.45 330.50 165.40 C330.80 165.36 331.24 166.11 331.50 166.80 C332.02 168.16 331.94 170.88 332.20 173.50 C332.57 177.22 333.17 182.95 333.50 187.00 C333.77 190.30 333.87 193.12 334.10 196.00 C334.31 198.67 334.43 201.30 334.80 203.70 C335.13 205.84 335.39 209.42 336.10 209.70 C336.46 209.84 337.08 209.17 337.40 208.80 C337.70 208.46 337.80 208.16 338.00 207.60 C338.39 206.50 338.74 204.25 339.10 202.50 C339.48 200.65 339.72 198.46 340.20 196.80 C340.59 195.44 341.11 194.33 341.60 193.20 C342.05 192.17 342.45 190.39 343.00 190.30 C343.45 190.22 344.14 191.12 344.50 191.80 C344.97 192.69 344.93 194.10 345.20 195.40 C345.52 196.93 345.99 198.79 346.30 200.40 C346.58 201.88 346.70 203.27 347.00 204.70 C347.30 206.14 347.69 207.57 348.10 209.00 C348.52 210.44 349.00 211.93 349.50 213.30 C349.97 214.59 350.39 215.76 351.00 217.00 C351.67 218.36 352.42 220.09 353.40 221.10 C354.23 221.96 355.39 222.94 356.30 222.90 C357.15 222.86 358.03 222.08 358.70 221.10 C359.83 219.45 360.30 214.92 361.00 212.90 C361.42 211.67 361.90 209.97 362.20 210.00 C362.50 210.03 362.68 211.69 362.80 213.00 C363.02 215.41 362.60 219.82 362.60 223.40 C362.60 227.21 362.55 231.51 362.80 235.20 C363.02 238.49 363.05 242.19 363.90 244.50 C364.48 246.07 365.24 247.41 366.30 248.10 C367.26 248.72 368.59 248.77 369.80 248.70 C371.14 248.63 372.42 248.20 374.00 247.50 C376.36 246.45 379.73 243.89 382.30 242.30 C384.51 240.93 386.45 239.78 388.50 238.50 C390.55 237.22 392.50 235.65 394.60 234.60 C396.61 233.60 398.71 232.82 400.80 232.30 C402.81 231.80 405.01 231.62 406.90 231.50 C408.54 231.39 409.97 231.32 411.50 231.50 C413.07 231.68 414.56 232.04 416.20 232.60 C418.13 233.26 420.27 234.43 422.30 235.40 C424.37 236.39 426.40 237.67 428.50 238.50 C430.51 239.29 432.54 240.00 434.60 240.30 C436.64 240.59 438.67 240.49 440.80 240.30 C443.10 240.09 445.48 239.56 447.90 239.00 C450.48 238.41 453.20 237.66 455.80 236.80 C458.43 235.93 461.17 234.68 463.60 233.80 C465.70 233.04 467.69 232.84 469.50 231.80 C471.40 230.71 472.89 228.88 474.70 227.30 C476.70 225.56 478.90 223.63 481.00 221.80 C483.10 219.97 485.22 218.20 487.30 216.30 C489.42 214.37 491.50 212.30 493.60 210.30" fill="none" stroke="#000" stroke-width="1.30" stroke-linejoin="round"/>
<path d="M325.3 269.1 325.4 268.3 325.4 267.5 325.5 266.7 325.6 265.9 325.6 265.0 325.7 264.2 325.8 263.4 325.9 262.6 325.9 261.8 326.0 261.0 326.1 260.2 326.2 259.4 326.3 258.6 326.4 257.8 326.4 257.6M327.1 251.6 327.3 250.7 327.4 249.8 327.5 249.0 327.7 248.1 327.8 247.2 327.9 246.3 328.1 245.5 328.2 244.6 328.3 243.8 328.5 243.0 328.6 242.2 328.7 241.4 328.8 240.6 328.9 240.3M329.7 234.3 329.8 233.4 329.9 232.6 330.0 231.7 330.1 230.9 330.1 230.1 330.2 229.2 330.3 228.4 330.4 227.6 330.5 226.8 330.6 226.0 330.7 225.2 330.8 224.4 330.9 223.6 330.9 223.0M331.6 216.9 331.7 216.1 331.8 215.3 332.0 214.4 332.1 213.6 332.2 212.8 332.3 211.9 332.5 211.0 332.6 210.2 332.7 209.4 332.9 208.5 333.0 207.7 333.2 206.9 333.3 206.1 333.4 205.6M334.0 199.6 334.1 198.7 334.2 197.9 334.3 197.1 334.3 196.2 334.4 195.3 334.4 194.5 334.5 193.7 334.5 192.8 334.6 192.0 334.7 191.1 334.8 190.3 335.0 189.4 335.1 188.5 335.2 188.2M338.1 187.1 338.4 187.9 338.6 188.7 338.8 189.5 339.0 190.3 339.2 191.1 339.4 192.0 339.5 192.8 339.6 193.6 339.8 194.4 339.9 195.2 340.0 196.1 340.1 196.9 340.2 197.8 340.2 198.2M341.2 204.1 341.5 204.9 341.9 205.7 342.4 206.3 343.0 206.9 343.8 207.2 344.5 207.0 345.1 206.3 345.6 205.6 346.2 204.9 346.7 204.3 347.4 203.6 347.5 203.5M350.8 199.5 351.2 198.8 351.6 198.1 352.0 197.4 352.5 196.7 353.0 196.0 353.4 195.3 353.9 194.6 354.4 193.9 355.0 193.2 355.5 192.6 356.0 191.9 356.5 191.3M359.7 187.2 360.4 186.7 361.2 186.3 362.0 186.1 362.9 185.9 363.7 186.0 364.5 186.4 365.1 186.9 365.7 187.6 366.1 188.2 366.5 189.0 366.8 189.6M367.9 195.5 368.1 196.3 368.2 197.2 368.3 198.0 368.4 198.9 368.5 199.7 368.7 200.6 369.0 201.4 369.2 202.2 369.5 203.0 369.8 203.8 370.0 204.6 370.3 205.4 370.5 206.2 370.5 206.3M371.7 212.2 371.8 213.1 372.0 213.9 372.1 214.8 372.2 215.6 372.4 216.5 372.5 217.3 372.6 218.1 372.7 219.0 372.8 219.8 372.9 220.7 373.0 221.5 373.1 222.4 373.3 223.2 373.3 223.5M374.9 229.2 375.3 230.0 375.7 230.8 376.2 231.5 376.7 232.1 377.3 232.6 378.0 233.1 378.7 233.5 379.5 233.9 380.4 234.2 381.2 234.4 381.8 234.5M386.1 233.9 386.9 233.6 387.8 233.3 388.6 233.1 389.4 232.8 390.2 232.6 391.0 232.4 391.9 232.1 392.7 231.9 393.5 231.6 394.1 231.4M398.5 230.0 399.3 229.7 400.0 229.5 400.8 229.2 401.6 229.0 402.5 228.9 403.3 228.8 403.6 228.7M408.0 229.2 408.8 229.5 409.5 229.8 410.3 230.2 411.0 230.6 411.7 230.9 412.5 231.2 413.3 231.6 414.1 231.9 414.8 232.3 415.5 232.7 415.8 232.8M419.3 236.4 419.8 237.1 420.2 237.8 420.6 238.6 421.0 239.3 421.4 240.1 421.8 240.8 422.3 241.5 422.8 242.2 423.4 242.9 424.0 243.4 424.5 244.0 425.1 244.5M428.8 247.8 429.4 248.3 430.1 248.8 430.7 249.3 431.4 249.8 432.1 250.3 432.9 250.7 433.6 251.0 434.3 251.3 435.1 251.6 435.9 251.9 436.3 252.0M440.7 253.1 441.5 253.3 442.3 253.5 443.1 253.7 443.9 253.9 444.8 254.0 445.7 254.2 446.5 254.4 447.3 254.5 448.1 254.6 448.8 254.7M453.1 255.2 453.9 255.3 454.8 255.3 455.7 255.4 456.5 255.4 457.3 255.5 458.2 255.5 459.1 255.5 459.9 255.5 460.7 255.5 461.4 255.5M465.8 255.5 466.7 255.5 467.5 255.5 468.4 255.5 469.3 255.4 470.2 255.4 471.0 255.4 471.9 255.4 472.7 255.4 473.5 255.4 474.0 255.3M478.4 255.2 479.2 255.2 480.0 255.1 480.9 255.1 481.7 255.1 482.5 255.0 483.4 255.0 484.2 255.0 485.1 255.0 485.9 254.9 486.5 254.9M491.0 254.9 491.9 254.9 492.8 254.9 493.6 254.9 494.5 254.9 495.3 254.9 496.2 254.9 497.1 254.9 497.9 254.9 498.3 254.9" fill="none" stroke="#000" stroke-width="1.30" stroke-linejoin="round"/>
<path d="M49.3 315.1 V419.9 H244.5" fill="none" stroke="#9c9c9c" stroke-width="1.2"/>
<path d="M47.1 419.9 H49.3" stroke="#9c9c9c" stroke-width="1"/>
<path d="M47.1 393.7 H49.3" stroke="#9c9c9c" stroke-width="1"/>
<path d="M47.1 367.5 H49.3" stroke="#9c9c9c" stroke-width="1"/>
<path d="M47.1 341.3 H49.3" stroke="#9c9c9c" stroke-width="1"/>
<path d="M47.1 315.1 H49.3" stroke="#9c9c9c" stroke-width="1"/>
<path d="M49.3 419.9 V422.1" stroke="#9c9c9c" stroke-width="1"/>
<path d="M114.3 419.9 V422.1" stroke="#9c9c9c" stroke-width="1"/>
<path d="M179.3 419.9 V422.1" stroke="#9c9c9c" stroke-width="1"/>
<path d="M244.3 419.9 V422.1" stroke="#9c9c9c" stroke-width="1"/>
<text x="43.0" y="422.35" text-anchor="end" class="t">100</text>
<text x="43.0" y="396.15" text-anchor="end" class="t">1000</text>
<text x="43.0" y="369.95" text-anchor="end" class="t">10 000</text>
<text x="43.0" y="343.75" text-anchor="end" class="t">100 000</text>
<text x="43.0" y="317.55" text-anchor="end" class="t">1 000 000</text>
<text x="49.3" y="432.9" text-anchor="middle" class="t">0</text>
<text x="114.3" y="432.9" text-anchor="middle" class="t">50</text>
<text x="179.3" y="432.9" text-anchor="middle" class="t">100</text>
<text x="244.3" y="432.9" text-anchor="middle" class="t">150</text>
<text x="147.1" y="440.6" text-anchor="middle" class="at">Days</text>
<text transform="translate(8.5 370.2) rotate(-90) scale(1.120 1)" text-anchor="middle" class="at" style="font-size:7.60px">CMV copies per mL</text>
<text x="2.0" y="310.0" class="L">E</text>
<path d="M65.10 420.00 C65.50 418.40 65.85 416.85 66.30 415.20 C66.78 413.42 67.39 411.66 67.90 409.70 C68.47 407.49 68.98 404.97 69.50 402.60 C70.02 400.24 70.51 397.90 71.00 395.50 C71.51 393.04 71.87 390.88 72.50 388.00 C73.36 384.05 74.49 378.01 75.80 374.00 C76.84 370.82 78.04 368.19 79.30 365.70 C80.40 363.52 81.64 361.26 82.80 359.80 C83.60 358.79 84.46 357.96 85.20 357.50 C85.69 357.19 86.23 357.37 86.60 357.00 C87.12 356.48 87.32 355.41 87.60 354.20 C88.07 352.15 88.19 348.63 88.50 345.70 C88.83 342.57 88.98 338.76 89.50 336.00 C89.89 333.89 90.23 330.78 91.00 330.50 C91.47 330.33 92.28 330.97 92.70 331.70 C93.55 333.16 93.20 336.67 93.50 340.00 C93.95 345.02 94.52 352.60 95.10 358.90 C95.68 365.20 96.30 372.07 97.00 377.80 C97.59 382.60 98.08 386.78 98.90 391.00 C99.67 394.96 100.60 399.16 101.70 402.40 C102.56 404.94 103.46 406.93 104.60 409.00 C105.71 411.02 106.88 413.25 108.40 414.70 C109.76 415.99 111.49 416.78 113.10 417.50 C114.63 418.19 116.53 418.57 117.80 419.00 C118.67 419.30 119.27 419.53 120.00 419.80" fill="none" stroke="#000" stroke-width="1.20" stroke-linejoin="round"/>
<path d="M158 419.9 H244.5" stroke="#3a3a3a" stroke-width="1.6"/>
<path d="M49.7 419.6 50.5 419.6 51.4 419.6 52.3 419.7 53.1 419.7 54.0 419.7 54.8 419.7 55.7 419.7 56.5 419.7 57.3 419.4 58.0 418.9 58.3 418.4M61.8 414.4 62.3 413.8 62.9 413.1 63.4 412.5 63.9 411.7 64.4 411.0 64.9 410.3 65.4 409.7 66.1 409.1 66.8 408.5 67.6 408.3 68.1 408.8M68.7 414.3 68.8 415.2 68.8 416.0 68.9 416.8 68.9 417.6 68.9 418.5 69.0 419.3 69.0 419.6M69.0 419.6 69.8 419.6 70.7 419.5 71.5 419.5 72.4 419.5 73.1 419.4M73.4 419.4 74.2 419.4 75.1 419.3 75.9 419.2 76.8 419.2 77.4 419.1M82.4 418.0 83.2 417.8 83.9 417.4 84.7 417.1 85.5 416.7 86.2 416.4 87.0 416.0 87.8 415.6 88.5 415.1 89.3 414.7 90.1 414.3 90.5 414.1M95.2 411.9 95.9 411.6 96.7 411.2 97.4 410.9 98.1 410.5 98.8 410.0 99.6 409.6 100.3 409.1 101.0 408.6 101.6 408.2 102.3 407.7 102.9 407.2 103.0 407.2M107.0 403.8 107.7 403.3 108.3 402.7 109.0 402.1 109.6 401.6 110.2 401.0 110.9 400.4 111.5 399.8 112.1 399.1 112.6 398.5 113.1 397.9 113.7 397.2M115.9 392.3 116.2 391.4 116.4 390.7 116.7 389.9 116.9 389.1 117.2 388.3 117.4 387.5 117.7 386.7 117.9 385.9 118.1 385.1 118.4 384.3 118.6 383.5 118.8 382.9M119.1 381.7 119.4 380.8 119.6 380.1M121.1 374.8 121.4 374.0 121.6 373.2 121.8 372.4 122.1 371.7 122.3 370.9 122.6 370.1 122.8 369.3 123.0 368.4 123.2 367.6 123.5 366.9 123.7 366.0 123.8 365.4M126.3 360.5 126.8 359.9 127.5 359.3 128.1 358.9 128.9 358.6 129.8 358.5 130.6 358.7 131.4 359.1 132.1 359.5 132.8 360.0 133.4 360.4 134.0 360.9M137.4 365.0 137.8 365.7 138.3 366.4 138.7 367.1 139.0 367.9 139.4 368.6 139.8 369.4 140.2 370.2 140.6 370.9 141.0 371.6 141.5 372.2 142.0 372.9 142.3 373.2M146.1 376.8 146.8 377.3 147.5 377.7 148.2 378.1 149.0 378.5 149.7 378.8 150.5 379.1 151.2 379.5 152.0 379.8 152.8 380.1 153.6 380.4 154.3 380.6M159.1 382.4 159.8 382.9 160.6 383.4 161.2 383.9 161.9 384.4 162.6 384.9 163.3 385.4 163.9 385.9 164.6 386.3 165.4 386.8 166.1 387.2 166.7 387.6M170.9 390.7 171.5 391.2 172.2 391.8 172.9 392.3 173.5 392.9 174.2 393.4 174.9 394.0 175.5 394.6 176.2 395.1 176.9 395.6 177.5 396.2 178.0 396.6M182.2 399.9 182.8 400.4 183.5 400.9 184.1 401.4 184.7 401.9 185.4 402.4 186.0 402.9 186.6 403.4 187.3 403.9 187.9 404.4 188.5 404.9 189.2 405.4 189.4 405.6M193.5 408.9 194.1 409.4 194.7 409.9 195.4 410.4 196.1 411.0 196.8 411.5 197.4 412.1 198.1 412.6 198.8 413.2 199.5 413.7 200.2 414.3 200.7 414.7M204.9 417.8 205.6 418.3 206.4 418.8 207.1 419.3 207.8 419.7 208.5 420.2 208.5 420.2" fill="none" stroke="#000" stroke-width="1.30" stroke-linejoin="round"/>
</svg>
</body></html>
